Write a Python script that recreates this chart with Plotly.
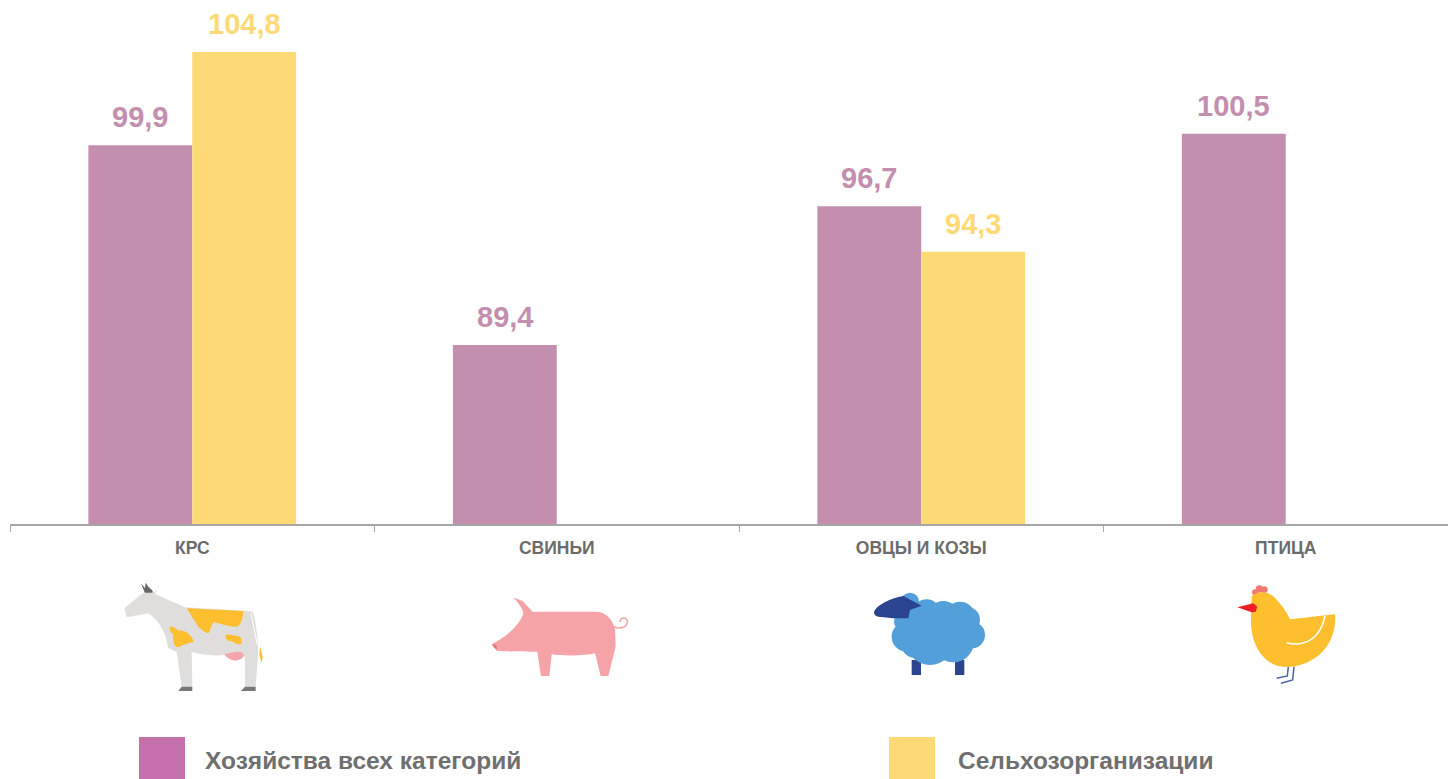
import re
import plotly.graph_objects as go

categories = ["КРС", "СВИНЬИ", "ОВЦЫ И КОЗЫ", "ПТИЦА"]
all_farms = [99.9, 89.4, 96.7, 100.5]
agri_orgs = [104.8, None, 94.3, None]
series_names = ["Хозяйства всех категорий", "Сельхозорганизации"]

W, H = 1448, 779
L, BASE = 10, 524
PLOT_W = W - L
CAT_W = 364.5
BAR_PX = 104


def px(x):
    return (x - L) / PLOT_W


def py(y):
    return (BASE - y) / BASE


def conv(path, ox=0, oy=0, k=1.0):
    toks = re.findall(r"[MLCZ]|-?\d+\.?\d*", path)
    parts, is_x = [], True
    for t in toks:
        if t in "MLCZ":
            parts.append(t)
            is_x = True
        elif is_x:
            parts.append(f"{px(ox + float(t) * k):.5f},")
            is_x = False
        else:
            parts.append(f"{py(oy + float(t) * k):.5f} ")
            is_x = True
    return "".join(parts).strip()


shapes = []


def shape(path, ox, oy, fill=None, line=None, lw=0, k=1 / 3):
    shapes.append(dict(type="path", xref="paper", yref="paper", path=conv(path, ox, oy, k),
                       fillcolor=fill if fill else "rgba(0,0,0,0)",
                       line=dict(color=line if line else "rgba(0,0,0,0)", width=lw), layer="above"))


def circle(cx, cy, r, ox, oy, fill):
    x, y, r = ox + cx / 3, oy + cy / 3, r / 3
    shapes.append(dict(type="circle", xref="paper", yref="paper",
                       x0=px(x - r), x1=px(x + r), y0=py(y + r), y1=py(y - r),
                       fillcolor=fill, line=dict(width=0), layer="above"))


# --- cow ---
ox, oy = 110, 570
GR = "#DFDEDD"
YL = "#FDBF2D"
shape("M93 40 L105 55 L107 38 L115 50 L128 62 L128 72 L105 70 Z", ox, oy, "#666666")
shape("M43 115 L100 68 L130 68 L142 60 L135 72 L225 112 L400 122 L428 125 C438 150 442 200 445 240 "
      "L437 350 L405 350 L405 262 C390 252 375 250 370 250 C345 256 320 258 300 255 C280 255 260 250 245 245 "
      "L247 350 L215 350 L200 245 L175 235 C170 210 165 190 155 175 C145 155 130 140 115 130 L50 142 Z", ox, oy, GR)
shape("M230 115 L400 123 C398 150 392 165 380 170 C360 172 330 160 310 157 C302 170 300 185 295 190 "
      "C285 188 270 175 265 170 Z", ox, oy, YL)
shape("M178 172 C185 165 195 172 205 182 C225 180 240 190 252 215 C235 220 220 222 205 232 "
      "C190 230 188 210 190 195 C185 188 178 182 178 172 Z", ox, oy, YL)
shape("M347 195 C360 190 375 200 385 198 C395 200 398 215 393 222 C380 226 372 212 355 212 "
      "C348 210 345 202 347 195 Z", ox, oy, YL)
shape("M342 253 C360 250 380 240 398 248 C405 258 398 270 375 272 C358 270 350 262 342 253 Z", ox, oy, "#F4A6AC")
shape("M215 350 L205 363 L247 363 L247 350 Z", ox, oy, "#777777")
shape("M405 350 L393 363 L437 363 L437 350 Z", ox, oy, "#777777")
shape("M450 228 L458 260 L455 280 L448 255 Z", ox, oy, YL)
shape("M423 130 L442 225", ox, oy, None, "#FFFFFF", 1)

# --- pig ---
ox, oy = 480, 585
PK = "#F5A3A6"
shape("M100 38 C115 42 125 46 130 50 L158 80 L350 80 C375 80 395 100 405 130 L407 185 L385 273 L362 273 "
      "L345 205 C320 212 250 214 215 208 L208 273 L183 273 L172 200 C140 200 90 200 50 197 L35 178 "
      "C80 155 120 120 130 85 C128 70 115 52 100 38 Z", ox, oy, PK)
shape("M35 178 L50 180 L50 195 Z", ox, oy, "#E8707A")
shape("M403 125 C420 135 442 125 442 110 C442 95 420 95 420 112", ox, oy, None, PK, 1.5)

# --- sheep ---
ox, oy = 860, 585
BL = "#539FD9"
DB = "#2B4490"
shape("M155 225 L183 225 L183 270 L155 270 Z", ox, oy, DB)
shape("M285 225 L313 225 L313 270 L285 270 Z", ox, oy, DB)
for c in [(150, 50, 27), (165, 95, 40), (200, 85, 42), (250, 95, 47), (300, 95, 45), (320, 105, 40), (130, 110, 28),
          (140, 155, 45), (335, 150, 40), (210, 170, 70), (280, 170, 62), (170, 170, 50), (240, 150, 70)]:
    circle(*c, ox, oy, BL)
shape("M42 80 C50 60 90 40 130 33 L185 62 L150 75 L145 100 L100 100 L55 95 C45 92 42 88 42 80 Z", ox, oy, DB)

# --- chicken ---
ox, oy = 1225, 575
LG = "#4C62A8"
shape("M190 275 L187 303 L155 310", ox, oy, None, LG, 1.5)
shape("M207 275 L203 315 L168 325", ox, oy, None, LG, 1.5)
for c in [(90, 52, 9), (103, 42, 11), (118, 44, 10)]:
    circle(*c, ox, oy, "#F07A74")
shape("M80 65 C100 45 130 50 150 68 C170 90 185 110 195 133 L330 118 C335 170 310 230 260 255 "
      "C220 280 160 285 125 255 C90 225 75 180 78 115 Z", ox, oy, YL)
shape("M37 97 L85 85 L97 95 L92 110 L80 112 Z", ox, oy, "#EE1C25")
shape("M185 203 C230 215 285 200 300 122", ox, oy, None, "#FFFFFF", 1.5)

# --- legend swatches ---
legend_cols = ["#C470AC", "#FDDA76"]
for x0, col in zip([139, 889], legend_cols):
    shapes.append(dict(type="rect", xref="paper", yref="paper", x0=px(x0), x1=px(x0 + 46),
                       y0=py(785), y1=py(737), fillcolor=col, line=dict(width=0), layer="above"))

annotations = [dict(xref="paper", yref="paper", x=px(x), y=py(760), text=t, showarrow=False,
                    xanchor="left", yanchor="middle",
                    font=dict(family="Liberation Sans", size=24.5, color="#6F6F6F", weight="bold"))
               for x, t in zip([202.5, 955.5], series_names)]


def fmt(v):
    return f"{v:.1f}".replace(".", ",")


BAR_A, BAR_B = "#C48FAF", "#FDDA76"
fig = go.Figure()
for name, vals, col, sign in zip(series_names, [all_farms, agri_orgs], [BAR_A, BAR_B], [-1, 1]):
    fig.add_trace(go.Bar(x=categories, y=vals, name=name, marker=dict(color=col, line=dict(width=0))))
    for cat, v in zip(categories, vals):
        if v is not None:
            annotations.append(dict(x=cat, y=v, xref="x", yref="y", xshift=sign * BAR_PX / 2, yshift=10,
                                    text=fmt(v), showarrow=False, xanchor="center", yanchor="bottom",
                                    font=dict(family="Liberation Sans", size=29, color=col, weight="bold")))

fig.update_layout(
    width=W, height=H, margin=dict(l=L, r=0, t=0, b=H - BASE), autosize=False,
    barmode="group", bargap=0.43, bargroupgap=0, showlegend=False,
    paper_bgcolor="white", plot_bgcolor="white",
    xaxis=dict(type="category", range=[-0.5, -0.5 + PLOT_W / CAT_W], tickson="boundaries", ticks="outside",
               ticklen=6, tickcolor="#A6A6A6", tickwidth=1, showline=True, linecolor="#A6A6A6", linewidth=1.8,
               showgrid=False, zeroline=False, fixedrange=True, ticklabelstandoff=7,
               tickfont=dict(family="Liberation Sans", size=17.5, color="#6B6B6B", weight="bold")),
    yaxis=dict(range=[80, 107.53], visible=False, fixedrange=True),
    shapes=shapes, annotations=annotations,
)
fig.write_html("out.html", config={"displayModeBar": False},
               post_script="document.body.style.margin='0';document.body.style.overflow='hidden';")
